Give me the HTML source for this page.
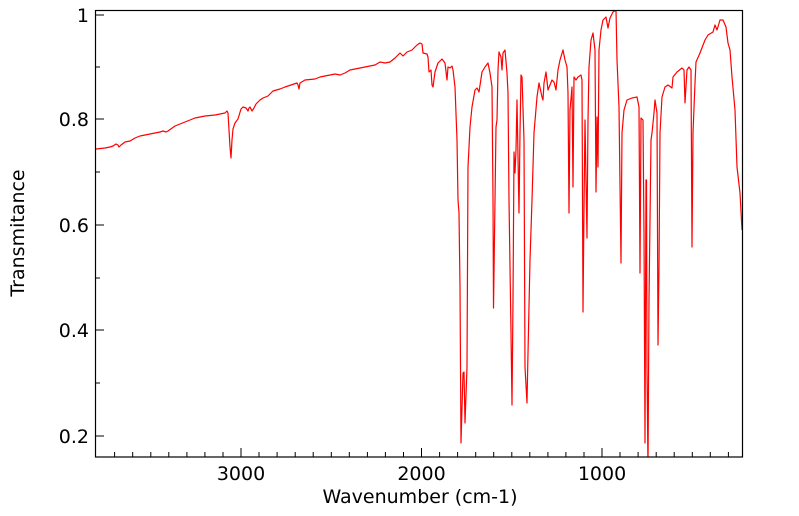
<!DOCTYPE html>
<html><head><meta charset="utf-8"><style>
html,body{margin:0;padding:0;background:#fff;}
svg{display:block;font-family:"DejaVu Sans","Liberation Sans",sans-serif;}
</style></head><body>
<svg width="799" height="516" viewBox="0 0 799 516" xmlns="http://www.w3.org/2000/svg">
<defs><clipPath id="c"><rect x="95.5" y="10" width="647" height="447"/></clipPath></defs>
<rect x="0" y="0" width="799" height="516" fill="#fff"/>
<polyline clip-path="url(#c)" fill="none" stroke="#ff0000" stroke-width="1.2" stroke-linejoin="round" points="
95,150 96,149 105,148 110,147 113,146 116,144 118,145 119,147 121,145 125,142 130,141 135,138 140,136 150,134 160,132 163,131 166,132 168,131 175,126 185,122 195,118 205,116 215,115 225,113 227,111 228,113 229,130 230,147 231,158 232,140 233,129 235,123 238,119 241,109 243,107 246,108 248,111 249,108 250,107 252,111 254,108 256,104 260,100 263,98 268,96 273,91 280,89 285,87 294,84 297,83 298,85 299,89 300,83 305,80 315,79 320,77 325,76 330,75 335,74 340,75 345,73 350,70 360,68 370,66 375,65 380,62 385,63 390,62 395,58 400,53 403,56 407,52 412,50 417,45 420,43 422,44 423,53 427,54 428,57 429,72 431,70 432,85 433,87 435,72 438,63 442,59 445,63 447,80 448,67 450,68 452,66 453,70 455,87 457,140 458,200 459,213 460,287 461,443 463,373 464,372 465,423 467,367 468,167 470,127 472,107 475,90 477,88 479,92 482,72 485,67 488,63 490,73 492,87 493,200 493.5,308 495,200 496,127 497,120 498,70 499,52 501,57 502,70 503,53 505,50 507,73 508,93 509,200 511,333 512,405 513,300 514,152 515,173 516,150 517,100 519,213 520,133 521,75 522,77 524,140 525,367 527,403 528,353 530,260 532,200 534,133 537,97 539,83 542,97 543,100 544,83 546,72 548,90 552,80 554,82 556,90 558,70 560,60 563,50 565,60 567,67 568,93 569,213 570,110 572,87 573,187 574,77 576,80 578,77 581,75 582,80 583,312 584,207 585,120 587,238 588,120 589,67 591,40 593,33 595,50 596,192 597,117 598,167 599,50 601,30 603,20 606,17 608,28 610,18 613,12 616,10 617,60 619,107 621,263 622,133 624,110 627,100 632,98 637,97 639,107 640,273 641,118 643,120 644,233 645,443 646,180 646.5,180 647,367 648,470 649,300 651,140 652,133 654,113 655,100 657,113 658,345 659,267 660,133 662,97 665,87 668,85 672,88 673,77 677,72 682,68 684,70 685,103 687,70 689,67 691,70 692,247 693,133 695,83 696,62 700,53 705,40 708,35 713,32 715,25 717,30 720,20 723,20 726,27 728,43 730,50 732,77 735,110 737,167 740,193 742,230"/>
<rect x="95.5" y="10.5" width="647" height="446.5" fill="none" stroke="#000" stroke-width="1.2"/>
<g stroke="#000" stroke-width="1">
<line x1="95.5" y1="15" x2="104" y2="15"/><line x1="95.5" y1="67" x2="100" y2="67"/>
<line x1="95.5" y1="119" x2="104" y2="119"/><line x1="95.5" y1="172" x2="100" y2="172"/>
<line x1="95.5" y1="225" x2="104" y2="225"/><line x1="95.5" y1="278" x2="100" y2="278"/>
<line x1="95.5" y1="330" x2="104" y2="330"/><line x1="95.5" y1="383" x2="100" y2="383"/>
<line x1="95.5" y1="436" x2="104" y2="436"/>
</g>
<g stroke="#000" stroke-width="1">
<line x1="114.6" y1="457" x2="114.6" y2="452"/><line x1="132.7" y1="457" x2="132.7" y2="452"/>
<line x1="150.8" y1="457" x2="150.8" y2="452"/><line x1="168.8" y1="457" x2="168.8" y2="452"/>
<line x1="186.9" y1="457" x2="186.9" y2="452"/><line x1="204.9" y1="457" x2="204.9" y2="452"/>
<line x1="223" y1="457" x2="223" y2="452"/><line x1="241" y1="457" x2="241" y2="448"/>
<line x1="259" y1="457" x2="259" y2="452"/><line x1="277.1" y1="457" x2="277.1" y2="452"/>
<line x1="295.2" y1="457" x2="295.2" y2="452"/><line x1="313.2" y1="457" x2="313.2" y2="452"/>
<line x1="331.3" y1="457" x2="331.3" y2="452"/><line x1="349.3" y1="457" x2="349.3" y2="452"/>
<line x1="367.4" y1="457" x2="367.4" y2="452"/><line x1="385.4" y1="457" x2="385.4" y2="452"/>
<line x1="403.5" y1="457" x2="403.5" y2="452"/><line x1="421.5" y1="457" x2="421.5" y2="448"/>
<line x1="439.6" y1="457" x2="439.6" y2="452"/><line x1="457.6" y1="457" x2="457.6" y2="452"/>
<line x1="475.7" y1="457" x2="475.7" y2="452"/><line x1="493.7" y1="457" x2="493.7" y2="452"/>
<line x1="511.8" y1="457" x2="511.8" y2="452"/><line x1="529.8" y1="457" x2="529.8" y2="452"/>
<line x1="547.9" y1="457" x2="547.9" y2="452"/><line x1="565.9" y1="457" x2="565.9" y2="452"/>
<line x1="584" y1="457" x2="584" y2="452"/><line x1="602" y1="457" x2="602" y2="448"/>
<line x1="620" y1="457" x2="620" y2="452"/><line x1="638.1" y1="457" x2="638.1" y2="452"/>
<line x1="656.2" y1="457" x2="656.2" y2="452"/><line x1="674.2" y1="457" x2="674.2" y2="452"/>
<line x1="692.3" y1="457" x2="692.3" y2="452"/><line x1="710.3" y1="457" x2="710.3" y2="452"/>
<line x1="728.4" y1="457" x2="728.4" y2="452"/>
</g>
<g font-size="19" fill="#000" text-anchor="end">
<text x="89" y="22">1</text><text x="89" y="126">0.8</text><text x="89" y="232">0.6</text><text x="89" y="337">0.4</text><text x="89" y="443">0.2</text>
</g>
<g font-size="19" fill="#000" text-anchor="middle">
<text x="241" y="480">3000</text><text x="421.5" y="480">2000</text><text x="602" y="480">1000</text>
<text x="420" y="503">Wavenumber (cm-1)</text>
</g>
<text x="24" y="233" font-size="19" text-anchor="middle" transform="rotate(-90 24 233)">Transmitance</text>
</svg>
</body></html>
